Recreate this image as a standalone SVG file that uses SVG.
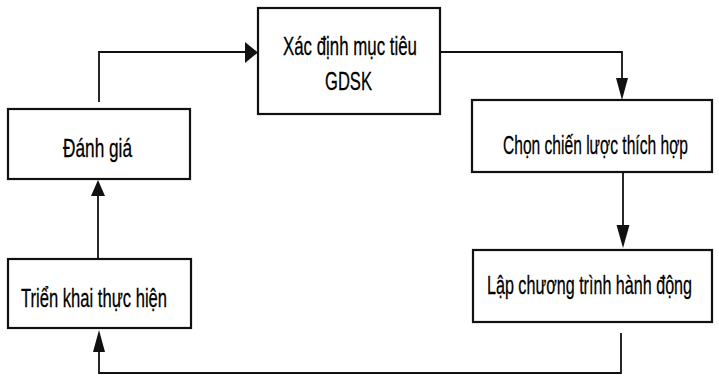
<svg xmlns="http://www.w3.org/2000/svg" width="719" height="377" viewBox="0 0 719 377">
  <style>
    .box { fill: #ffffff; stroke: #111111; stroke-width: 2.2; }
    .lbl { font-family: "Liberation Sans", Arial, sans-serif; font-size: 26px; fill: #000000; stroke: #000000; stroke-width: 0.3; }
    .line { fill: none; stroke: #111111; stroke-width: 1.8; }
    .head { fill: #111111; stroke: none; }
  </style>
  <rect width="719" height="377" fill="#ffffff"/>
  <g id="connectors">
    <path class="line" d="M99,102 V52 H246"/>
    <polygon class="head" points="258,52.5 245,42 245,63"/>
    <path class="line" d="M440,52 H622 V80"/>
    <polygon class="head" points="622,100 616,78 628,78"/>
    <path class="line" d="M623,172 V227"/>
    <polygon class="head" points="623,248 616.5,225 629.5,225"/>
    <path class="line" d="M621,333 V373 H99 V350"/>
    <polygon class="head" points="99,330 93,352 105,352"/>
    <path class="line" d="M98,259 V194"/>
    <polygon class="head" points="98,180 91,196 105,196"/>
  </g>
  <g id="node-xac-dinh">
    <rect class="box" x="258" y="8" width="182" height="106"/>
    <text class="lbl" transform="translate(283,55) scale(0.7,1)" textLength="191.4" lengthAdjust="spacingAndGlyphs">Xác định mục tiêu</text>
    <text class="lbl" transform="translate(325,90) scale(0.7,1)" textLength="67.1" lengthAdjust="spacingAndGlyphs">GDSK</text>
  </g>
  <g id="node-danh-gia">
    <rect class="box" x="8" y="109" width="182" height="70"/>
    <text class="lbl" transform="translate(63,157) scale(0.7,1)" textLength="98.6" lengthAdjust="spacingAndGlyphs">Đánh giá</text>
  </g>
  <g id="node-chon">
    <rect class="box" x="472" y="100" width="240" height="72"/>
    <text class="lbl" transform="translate(503,154) scale(0.7,1)" textLength="264.3" lengthAdjust="spacingAndGlyphs">Chọn chiến lược thích hợp</text>
  </g>
  <g id="node-lap">
    <rect class="box" x="473" y="250" width="239" height="72"/>
    <text class="lbl" transform="translate(487,294) scale(0.7,1)" textLength="292.9" lengthAdjust="spacingAndGlyphs">Lập chương trình hành động</text>
  </g>
  <g id="node-trien-khai">
    <rect class="box" x="8" y="259" width="183" height="69"/>
    <text class="lbl" transform="translate(21,307) scale(0.7,1)" textLength="208.6" lengthAdjust="spacingAndGlyphs">Triển khai thực hiện</text>
  </g>
</svg>
